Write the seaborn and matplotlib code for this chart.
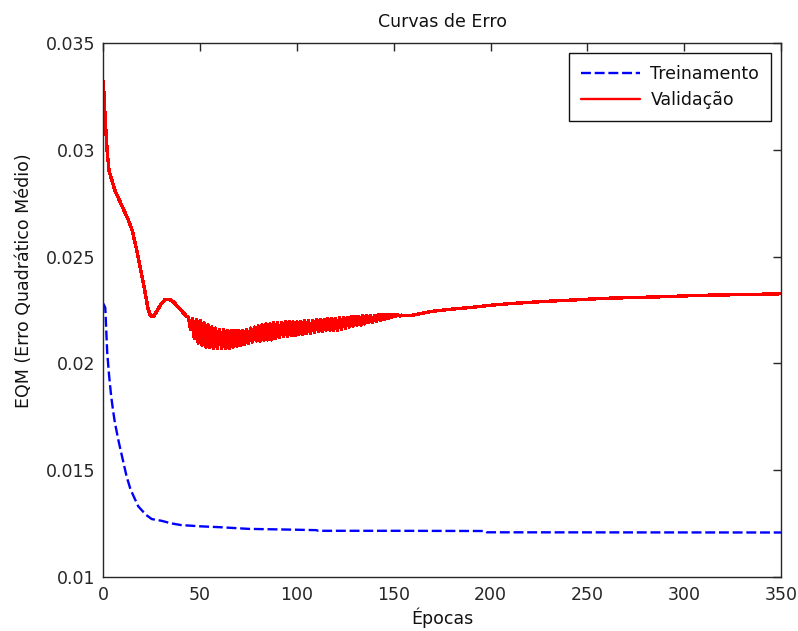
import numpy as np
import pandas as pd
import matplotlib
matplotlib.use("Agg")
import matplotlib.pyplot as plt
import seaborn as sns

# ---- training error (MSE) per epoch -------------------------------------
train_epochs = [0, 1, 2, 3, 4, 5, 6, 8, 10, 12, 14, 16, 18, 20, 22, 25, 30,
                35, 40, 50, 60, 75, 100, 110, 111, 150, 197, 198, 350]
train_mse = [0.0228, 0.0226, 0.0205, 0.0194, 0.0185, 0.0178, 0.0172, 0.0163,
             0.0155, 0.0147, 0.0141, 0.0137, 0.0133, 0.0131, 0.0129, 0.0127,
             0.01262, 0.01250, 0.01242, 0.01236, 0.01232, 0.01224, 0.01220,
             0.01218, 0.01215, 0.01215, 0.01214, 0.01208, 0.01207]

# ---- validation error: smooth start (epochs 0-43) -----------------------
val_head_epochs = [0, 1, 2, 3, 4, 5, 6, 8, 10, 13, 15, 17, 19, 21, 23, 24,
                   25, 26, 28, 30, 32, 34, 36, 38, 40, 42, 43]
val_head_mse = [0.0332, 0.0314, 0.0299, 0.0290, 0.0287, 0.0284, 0.0281,
                0.0277, 0.0273, 0.0267, 0.0262, 0.0254, 0.0245, 0.0236,
                0.0226, 0.0223, 0.0222, 0.0222, 0.0225, 0.0228, 0.0230,
                0.0230, 0.0229, 0.0227, 0.0225, 0.0223, 0.0222]

# ---- validation error: oscillating stretch (epochs 44-159) --------------
# values at the even epochs (44, 46, ..., 158)
val_even = [0.02215, 0.0221, 0.02205, 0.0220, 0.0219, 0.0218, 0.0217,
            0.02165, 0.0216, 0.0216, 0.02155, 0.02155, 0.02155, 0.02155,
            0.02155, 0.0216, 0.02165, 0.0217, 0.02175, 0.0218, 0.02185,
            0.02185, 0.0219, 0.0219, 0.0219, 0.02195, 0.02195, 0.02195,
            0.02195, 0.02195, 0.0220, 0.0220, 0.0220, 0.02205, 0.02205,
            0.02205, 0.0221, 0.0221, 0.0221, 0.02215, 0.02215, 0.02215,
            0.0222, 0.0222, 0.0222, 0.02225, 0.02225, 0.02225, 0.02225,
            0.0223, 0.0223, 0.0223, 0.0223, 0.0223, 0.02228, 0.02226,
            0.02225, 0.02225]
# values at the odd epochs (45, 47, ..., 159)
val_odd = [0.0216, 0.02115, 0.02095, 0.02085, 0.02075, 0.02075, 0.0207,
           0.0207, 0.0207, 0.0207, 0.0207, 0.02075, 0.0208, 0.02085, 0.0209,
           0.02095, 0.0210, 0.02105, 0.02105, 0.0211, 0.0211, 0.0211,
           0.02115, 0.0212, 0.02125, 0.02125, 0.0213, 0.0213, 0.02135,
           0.02135, 0.0214, 0.0214, 0.02145, 0.0215, 0.0215, 0.02155,
           0.02155, 0.02155, 0.02155, 0.0216, 0.02165, 0.0217, 0.02175,
           0.0218, 0.0218, 0.02185, 0.0219, 0.0219, 0.02195, 0.0220, 0.02205,
           0.0221, 0.02215, 0.0222, 0.02222, 0.02223, 0.02224, 0.02225]

# ---- validation error: smooth tail (epochs 160-350) ---------------------
val_tail_epochs = [160, 170, 180, 190, 200, 210, 230, 260, 285, 310, 330, 350]
val_tail_mse = [0.02226, 0.02244, 0.02254, 0.02262, 0.02272, 0.02280,
                0.02291, 0.02305, 0.02311, 0.02319, 0.02322, 0.02326]

y_ticks = [0.01, 0.015, 0.02, 0.025, 0.03, 0.035]
y_tick_labels = ["0.01", "0.015", "0.02", "0.025", "0.03", "0.035"]
x_ticks = [0, 50, 100, 150, 200, 250, 300, 350]

# assemble the validation series in epoch order
osc_epochs, osc_mse = [], []
for k, (hi, lo) in enumerate(zip(val_even, val_odd)):
    osc_epochs += [44 + 2 * k, 45 + 2 * k]
    osc_mse += [hi, lo]

train_df = pd.DataFrame({"epoch": train_epochs, "mse": train_mse})
val_df = pd.DataFrame({
    "epoch": val_head_epochs + osc_epochs + val_tail_epochs,
    "mse": val_head_mse + osc_mse + val_tail_mse,
})

sns.set_theme(style="white")
plt.rcParams["font.family"] = ["DejaVu Sans"]
FS = 12.5

fig = plt.figure(figsize=(7.98, 6.31), dpi=100)
ax = fig.add_axes([0.1295, 0.0861, 0.8492, 0.8453])

sns.lineplot(data=train_df, x="epoch", y="mse", ax=ax, color="#0000ff",
             linewidth=1.7, linestyle=(0, (4.2, 1.6)), sort=False,
             estimator=None, label="Treinamento")
sns.lineplot(data=val_df, x="epoch", y="mse", ax=ax, color="#ff0000",
             linewidth=1.7, sort=False, estimator=None, label="Validação",
             antialiased=False)

ax.set_xlim(0, 350)
ax.set_ylim(0.01, 0.035)
ax.set_xticks(x_ticks)
ax.set_xticklabels([str(v) for v in x_ticks])
ax.set_yticks(y_ticks)
ax.set_yticklabels(y_tick_labels)

ax.tick_params(direction="in", length=5.5, width=1.0, top=True, right=True,
               labelsize=FS, colors="#262626")
ax.tick_params(axis="y", pad=5.5)
ax.tick_params(axis="x", pad=6.5)
for sp in ax.spines.values():
    sp.set_color("#262626")
    sp.set_linewidth(1.0)

ax.set_title("Curvas de Erro", fontsize=FS, pad=12, color="#111111")
ax.set_xlabel("Épocas", fontsize=FS, color="#111111", labelpad=3)
ax.set_ylabel("EQM (Erro Quadrático Médio)", fontsize=FS, color="#111111")
ax.yaxis.set_label_coords(-0.1037, 0.554)

leg = ax.legend(loc="upper right", fontsize=FS, frameon=True, fancybox=False,
                edgecolor="#111111", framealpha=1, borderpad=0.7,
                handlelength=3.4, handletextpad=0.6, labelspacing=0.45,
                borderaxespad=0.55)
leg.get_frame().set_linewidth(1.0)
for t in leg.get_texts():
    t.set_color("#111111")

fig.savefig("out.png", dpi=100, facecolor="white")
